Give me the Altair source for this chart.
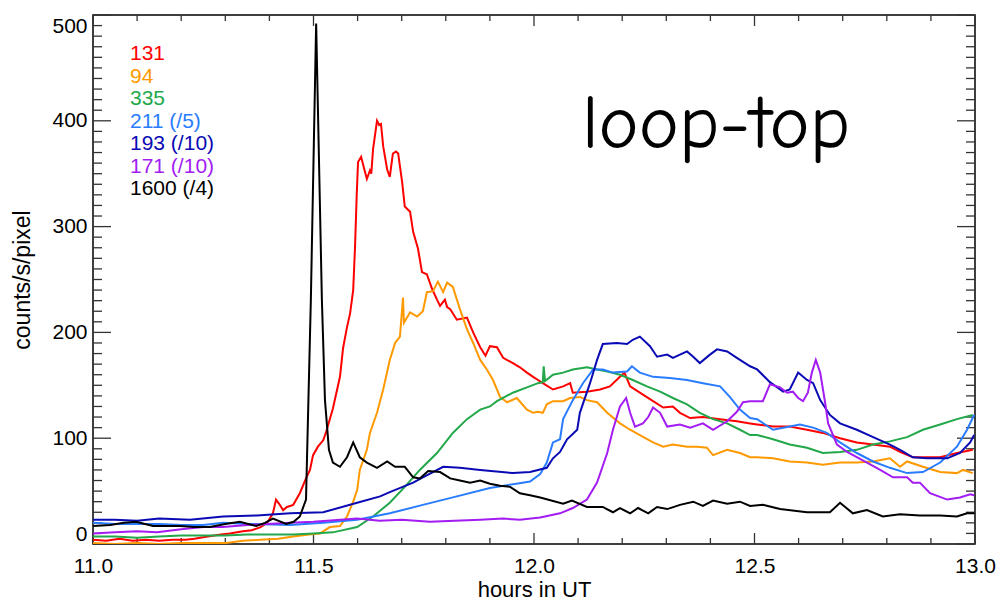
import altair as alt
import pandas as pd

W, H = 882, 529

# ---------------- data (hours UT, counts/s/pixel) ----------------
t_131 = [11.000, 11.03, 11.06, 11.09, 11.12, 11.15, 11.18, 11.21, 11.23, 11.26, 11.29, 11.31, 11.34, 11.36,
         11.38, 11.395, 11.408, 11.415, 11.422, 11.431, 11.44, 11.454, 11.469, 11.483, 11.492, 11.499, 11.51,
         11.522, 11.528, 11.537, 11.544, 11.56, 11.567, 11.576, 11.583, 11.59, 11.594, 11.598, 11.601, 11.608,
         11.614, 11.621, 11.628, 11.631, 11.635, 11.644, 11.649, 11.653, 11.658, 11.667, 11.673, 11.68, 11.687,
         11.692, 11.701, 11.707, 11.719, 11.726, 11.737, 11.746, 11.757, 11.769, 11.78, 11.787, 11.798, 11.803,
         11.81, 11.825, 11.848, 11.862, 11.878, 11.89, 11.9, 11.916, 11.93, 11.952, 11.968, 11.984, 11.998,
         12.009, 12.02, 12.043, 12.066, 12.082, 12.088, 12.12, 12.15, 12.172, 12.195, 12.205, 12.218, 12.24,
         12.27, 12.293, 12.315, 12.331, 12.354, 12.383, 12.422, 12.46, 12.49, 12.506, 12.542, 12.58, 12.619,
         12.655, 12.694, 12.732, 12.769, 12.807, 12.83, 12.859, 12.891, 12.921, 12.959, 12.995]
v_131 = [4, 3, 5, 3, 4, 3, 4, 4, 5, 7, 9, 10, 12, 13,
         16, 20, 29, 42, 38, 32, 35, 37, 48, 62, 70, 84, 92,
         98, 105, 118, 128, 158, 185, 205, 218, 240, 279, 330, 361, 366,
         356, 345, 353, 350, 373, 400, 396, 397, 376, 354, 347, 369, 371,
         369, 342, 319, 314, 295, 279, 257, 255, 241, 231, 225, 231, 224,
         222, 212, 214, 200, 186, 178, 187, 186, 176, 171, 167, 162, 158,
         155, 152, 146, 149, 152, 143, 144, 146, 149, 158, 162, 149, 143,
         135, 129, 130, 124, 119, 120, 118, 116, 114, 113, 111, 111, 108,
         105, 100, 96, 94, 92, 87, 82, 82, 82, 86, 89]

t_94 = [11.0, 11.05, 11.1, 11.15, 11.2, 11.25, 11.302, 11.34, 11.379, 11.42, 11.454, 11.49, 11.515, 11.537,
        11.56, 11.576, 11.59, 11.599, 11.605, 11.621, 11.628, 11.644, 11.658, 11.673, 11.685, 11.696, 11.703,
        11.705, 11.719, 11.735, 11.748, 11.757, 11.771, 11.782, 11.794, 11.803, 11.816, 11.832, 11.848, 11.862,
        11.878, 11.893, 11.907, 11.923, 11.939, 11.961, 11.984, 11.998, 12.009, 12.02, 12.029, 12.043, 12.066,
        12.082, 12.104, 12.12, 12.143, 12.166, 12.195, 12.218, 12.24, 12.27, 12.293, 12.315, 12.347, 12.37,
        12.392, 12.406, 12.438, 12.467, 12.49, 12.506, 12.542, 12.58, 12.619, 12.655, 12.694, 12.732, 12.769,
        12.807, 12.83, 12.846, 12.882, 12.921, 12.959, 12.973, 12.995]
v_94 = [1, 0, 1, 0, 1, 1, 1, 3, 4, 5, 7, 9, 10, 16,
        17, 26, 40, 51, 70, 89, 105, 124, 146, 174, 190, 196, 233,
        209, 219, 215, 220, 238, 239, 248, 238, 247, 243, 222, 203, 190,
        174, 165, 155, 139, 134, 138, 127, 124, 125, 124, 132, 135, 135,
        138, 139, 136, 134, 124, 114, 108, 103, 96, 92, 94, 92, 92,
        91, 84, 89, 86, 82, 82, 81, 78, 77, 75, 77, 77, 78,
        81, 73, 78, 73, 68, 67, 70, 67]

t_335 = [11.0, 11.05, 11.1, 11.15, 11.2, 11.25, 11.3, 11.35, 11.4, 11.454, 11.5, 11.544, 11.599, 11.635,
         11.673, 11.707, 11.741, 11.78, 11.816, 11.848, 11.878, 11.9, 11.916, 11.952, 11.984, 12.009, 12.02,
         12.022, 12.025, 12.043, 12.066, 12.088, 12.12, 12.143, 12.166, 12.195, 12.224, 12.256, 12.286, 12.315,
         12.347, 12.376, 12.406, 12.438, 12.467, 12.49, 12.506, 12.542, 12.58, 12.619, 12.655, 12.694, 12.732,
         12.769, 12.807, 12.846, 12.882, 12.921, 12.959, 12.995]
v_335 = [7, 7, 6, 7, 8, 8, 8, 9, 9, 9, 10, 11, 16, 26,
         39, 54, 70, 86, 105, 118, 127, 130, 135, 143, 148, 152, 153,
         168, 154, 160, 162, 165, 167, 165, 163, 160, 155, 149, 144, 138,
         132, 124, 118, 114, 108, 103, 103, 99, 94, 91, 86, 87, 89,
         94, 97, 101, 108, 113, 118, 122]

t_211 = [11.0, 11.05, 11.1, 11.15, 11.2, 11.25, 11.295, 11.35, 11.447, 11.522, 11.599, 11.673, 11.748, 11.825,
         11.9, 11.96, 11.991, 12.014, 12.029, 12.043, 12.059, 12.066, 12.088, 12.111, 12.134, 12.156, 12.179,
         12.211, 12.222, 12.24, 12.27, 12.308, 12.347, 12.383, 12.422, 12.444, 12.467, 12.49, 12.506, 12.542,
         12.58, 12.603, 12.633, 12.664, 12.694, 12.732, 12.769, 12.807, 12.846, 12.882, 12.921, 12.959, 12.982,
         12.998]
v_211 = [20, 19, 19, 19, 18, 18, 20, 19, 18, 20, 23, 29, 37, 45,
         53, 57, 59, 66, 77, 96, 99, 118, 136, 152, 165, 165, 162,
         163, 168, 162, 158, 157, 155, 152, 149, 139, 127, 119, 118, 108,
         111, 113, 110, 105, 96, 86, 78, 72, 67, 68, 77, 92, 108,
         122]

t_193 = [11.0, 11.05, 11.1, 11.15, 11.22, 11.295, 11.372, 11.447, 11.522, 11.599, 11.651, 11.673, 11.726, 11.748,
         11.794, 11.832, 11.878, 11.952, 11.991, 12.029, 12.043, 12.059, 12.075, 12.098, 12.104, 12.127, 12.143,
         12.156, 12.188, 12.211, 12.224, 12.24, 12.263, 12.279, 12.302, 12.315, 12.347, 12.361, 12.376, 12.399,
         12.415, 12.438, 12.46, 12.49, 12.506, 12.535, 12.565, 12.58, 12.599, 12.619, 12.633, 12.649, 12.671,
         12.694, 12.732, 12.769, 12.807, 12.83, 12.859, 12.891, 12.937, 12.966, 12.989, 12.998]
v_193 = [23, 23, 22, 24, 23, 26, 27, 29, 30, 39, 45, 49, 58, 63,
         73, 72, 70, 67, 68, 72, 81, 87, 99, 108, 124, 152, 174,
         189, 190, 189, 193, 196, 187, 177, 179, 176, 182, 177, 171, 179,
         184, 182, 176, 168, 165, 153, 144, 146, 162, 155, 152, 136, 122,
         114, 108, 101, 94, 89, 82, 81, 81, 86, 96, 103]

t_171 = [11.0, 11.05, 11.1, 11.145, 11.2, 11.25, 11.295, 11.35, 11.447, 11.5, 11.599, 11.65, 11.7, 11.764,
         11.82, 11.878, 11.93, 11.968, 12.014, 12.059, 12.088, 12.12, 12.143, 12.166, 12.179, 12.195, 12.209,
         12.218, 12.229, 12.247, 12.259, 12.27, 12.286, 12.302, 12.331, 12.354, 12.383, 12.406, 12.438, 12.46,
         12.474, 12.49, 12.519, 12.535, 12.558, 12.574, 12.587, 12.599, 12.61, 12.621, 12.63, 12.639, 12.649,
         12.66, 12.667, 12.687, 12.71, 12.755, 12.785, 12.814, 12.846, 12.859, 12.875, 12.898, 12.937, 12.966,
         12.989, 12.998]
v_171 = [10, 11, 12, 11, 14, 16, 16, 18, 20, 21, 24, 22, 23, 21,
         22, 23, 24, 23, 25, 29, 34, 42, 58, 86, 108, 130, 138,
         124, 111, 114, 120, 129, 124, 111, 113, 110, 114, 108, 116, 125,
         134, 135, 135, 151, 148, 143, 144, 138, 135, 143, 162, 174, 162,
         134, 114, 94, 87, 77, 70, 63, 63, 58, 58, 48, 42, 44,
         47, 46]

t_1600 = [11.0, 11.039, 11.07, 11.098, 11.136, 11.17, 11.197, 11.23, 11.265, 11.3, 11.333, 11.37, 11.39, 11.408,
          11.438, 11.455, 11.469, 11.483, 11.494, 11.506, 11.519, 11.526, 11.535, 11.544, 11.56, 11.576, 11.59,
          11.605, 11.621, 11.644, 11.667, 11.685, 11.707, 11.726, 11.741, 11.76, 11.787, 11.81, 11.832, 11.855,
          11.878, 11.9, 11.923, 11.946, 11.968, 11.991, 12.014, 12.066, 12.086, 12.12, 12.156, 12.179, 12.195,
          12.218, 12.236, 12.259, 12.279, 12.302, 12.331, 12.361, 12.383, 12.406, 12.438, 12.467, 12.49, 12.519,
          12.558, 12.619, 12.671, 12.694, 12.723, 12.755, 12.791, 12.83, 12.875, 12.921, 12.959, 12.982, 12.999]
v_1600 = [17, 18, 20, 21, 17, 17, 17, 16, 16, 19, 21, 17, 20, 24,
          19, 21, 26, 42, 231, 492, 231, 136, 89, 77, 73, 82, 96,
          82, 77, 72, 78, 73, 73, 63, 62, 69, 68, 62, 60, 58,
          60, 57, 55, 54, 48, 46, 44, 38, 41, 35, 35, 30, 34,
          29, 34, 29, 35, 33, 37, 40, 36, 41, 38, 40, 36, 37,
          33, 30, 30, 39, 29, 32, 26, 28, 27, 27, 26, 29, 29]

series = [
    ("131", t_131, v_131, "#ff0000", "131"),
    ("94", t_94, v_94, "#ff9900", "94"),
    ("335", t_335, v_335, "#22a84a", "335"),
    ("211", t_211, v_211, "#2a7cff", "211 (/5)"),
    ("193", t_193, v_193, "#0a0ab4", "193 (/10)"),
    ("171", t_171, v_171, "#a31cf2", "171 (/10)"),
    ("1600", t_1600, v_1600, "#000000", "1600 (/4)"),
]

x_major = [11.0, 11.5, 12.0, 12.5, 13.0]
x_minor = [round(11 + i / 10, 1) for i in range(21) if i % 5]
y_major = [0, 100, 200, 300, 400, 500]
y_minor = [v for v in range(0, 501, 10) if v % 100]

FONT = "Liberation Sans"
xs = alt.Scale(domain=[11, 13], nice=False, zero=False)
ys = alt.Scale(domain=[0, 500], nice=False, zero=False)

x_axis = alt.Axis(values=x_major, format=".1f", ticks=False, tickSize=0, domain=False, grid=False,
                  labelFont=FONT, labelFontSize=21, labelColor="black", labelPadding=11,
                  labelFlush=False, labelOverlap=False,
                  title="hours in UT", titleFont=FONT, titleFontSize=22, titleFontWeight="normal",
                  titleColor="black", titleX=W / 2, titleY=52, titleBaseline="alphabetic")
y_axis = alt.Axis(values=y_major, format="d", ticks=False, tickSize=0, domain=False, grid=False,
                  labelFont=FONT, labelFontSize=21, labelColor="black", labelPadding=6,
                  labelFlush=True, labelOverlap=False,
                  title="counts/s/pixel", titleFont=FONT, titleFontSize=23, titleFontWeight="normal",
                  titleColor="black", titleX=-71, titleY=H / 2, titleBaseline="middle", titleAngle=270)

X = lambda f: alt.X(f, scale=xs, axis=x_axis)
Y = lambda f: alt.Y(f, scale=ys, axis=y_axis)

layers = []
TICK_COLOR = "#333333"


def xtick(vals, y0, y1):
    return alt.Chart(pd.DataFrame({"t": vals})).mark_rule(color=TICK_COLOR, strokeWidth=1.3).encode(
        x=X("t:Q"), y=alt.value(y0), y2=alt.value(y1))


def ytick(vals, x0, x1):
    return alt.Chart(pd.DataFrame({"v": vals})).mark_rule(color=TICK_COLOR, strokeWidth=1.3).encode(
        y=Y("v:Q"), x=alt.value(x0), x2=alt.value(x1))


layers += [
    xtick(x_major, H, H - 11), xtick(x_minor, H, H - 6),
    xtick(x_major, 0, 11), xtick(x_minor, 0, 6),
    ytick(y_major, 0, 18), ytick(y_minor, 0, 9),
    ytick(y_major, W, W - 18), ytick(y_minor, W, W - 9),
]

for key, ts, vs, col, lab in series:
    df = pd.DataFrame({"t": ts, "v": vs})
    layers.append(
        alt.Chart(df).mark_line(color=col, strokeWidth=2, clip=True).encode(x=X("t:Q"), y=Y("v:Q"))
    )

for i, (key, ts, vs, col, lab) in enumerate(series):
    layers.append(
        alt.Chart(pd.DataFrame({"label": [lab]})).mark_text(
            align="left", baseline="middle", font=FONT, fontSize=21, color=col
        ).encode(text="label:N", x=alt.value(37), y=alt.value(39 + 22.5 * i))
    )

layers.append(
    alt.Chart(pd.DataFrame({"label": ["loop-top"]})).mark_text(
        align="center", baseline="alphabetic", font="Comic Sans MS, Comic Neue, DejaVu Sans",
        fontSize=76, color="black"
    ).encode(text="label:N", x=alt.value(623), y=alt.value(133))
)

chart = alt.layer(*layers).properties(
    width=W, height=H,
    autosize=alt.AutoSizeParams(type="none"),
    padding={"left": 93, "top": 15, "right": 23, "bottom": 56},
    background="white",
).configure_view(stroke="black", strokeWidth=1.5)

chart.save("out.html", embed_options={"renderer": "svg", "actions": False})
